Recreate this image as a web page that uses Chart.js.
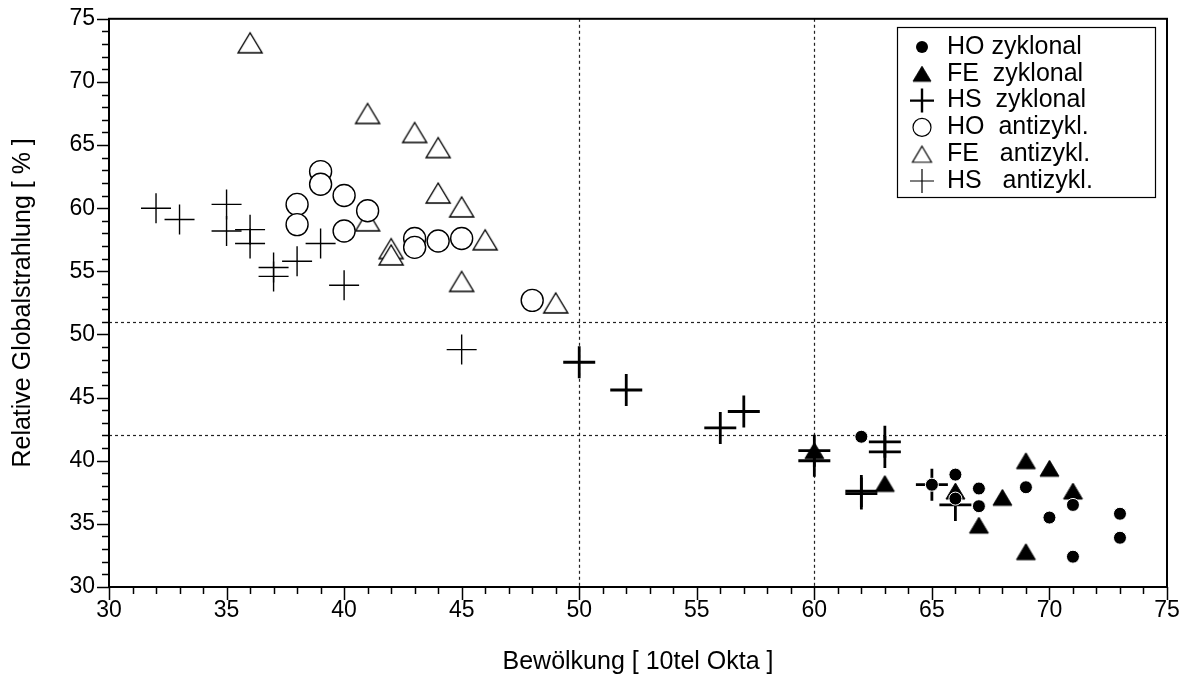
<!DOCTYPE html>
<html>
<head>
<meta charset="utf-8">
<script src="https://cdn.jsdelivr.net/npm/chart.js@4.4.1/dist/chart.umd.min.js"></script>
<style>
  html, body { margin: 0; padding: 0; background: #fff; }
  #wrap { width: 1187px; height: 689px; position: relative; }
</style>
</head>
<body>
<div id="wrap"><canvas id="chart"></canvas></div>
<script>
// ─── Data ───
const hoZykX = [62, 65, 66, 66, 67, 67, 69, 70, 71, 71, 73, 73];
const hoZykY = [41.9, 38.1, 38.9, 37.0, 37.8, 36.4, 37.9, 35.5, 36.5, 32.4, 35.8, 33.9];

const feZykX = [60, 63, 66, 67, 68, 69, 69, 70, 71];
const feZykY = [40.8, 38.2, 37.6, 34.9, 37.1, 40.0, 32.8, 39.4, 37.6];

const hsZykX = [50, 52, 56, 57, 60, 60, 62, 62, 63, 63, 65, 66];
const hsZykY = [47.8, 45.6, 42.6, 43.9, 40.8, 40.0, 37.6, 37.4, 41.5, 40.7, 38.1, 36.5];

const hoAntiX = [38, 38, 39, 39, 40, 40, 41, 43, 43, 44, 45, 48];
const hoAntiY = [60.3, 58.7, 62.9, 61.9, 61.0, 58.2, 59.8, 57.6, 56.9, 57.4, 57.6, 52.7];

const feAntiX = [36, 41, 41, 42, 42, 43, 44, 44, 45, 45, 46, 49];
const feAntiY = [73.1, 67.5, 59.0, 56.8, 56.3, 66.0, 64.8, 61.2, 60.1, 54.2, 57.5, 52.5];

const hsAntiX = [32, 33, 35, 35, 36, 36, 37, 37, 38, 39, 40, 45];
const hsAntiY = [60.0, 59.1, 60.3, 58.2, 58.3, 57.2, 55.3, 54.6, 55.8, 57.2, 53.9, 48.8];

const xTickValues = [30, 35, 40, 45, 50, 55, 60, 65, 70, 75];
const yTickValues = [30, 35, 40, 45, 50, 55, 60, 65, 70, 75];
const refLinesX = [50, 60];
const refLinesY = [51, 42];

const legendLabels = ['HO zyklonal', 'FE  zyklonal', 'HS  zyklonal', 'HO  antizykl.', 'FE   antizykl.', 'HS   antizykl.'];

const FONT = '"Liberation Sans", Arial, sans-serif';

const pts = (xs, ys) => xs.map((x, i) => ({ x: x, y: ys[i] }));

// triangle markers centred on their bounding box
function triangle(w, h, filled, lw) {
  const c = document.createElement('canvas');
  const pad = Math.ceil(lw) + 1;
  c.width = w + pad * 2; c.height = h + pad * 2;
  const g = c.getContext('2d');
  g.beginPath();
  g.moveTo(pad + w / 2, pad);
  g.lineTo(pad + w, pad + h);
  g.lineTo(pad, pad + h);
  g.closePath();
  g.fillStyle = filled ? '#000' : '#fff';
  g.fill();
  g.lineWidth = lw; g.strokeStyle = '#000';
  g.stroke();
  return c;
}
const triFilled = triangle(19, 16, true, 1);
const triOpen = triangle(24, 20, false, 1.4);
const triFilledSmall = triangle(18, 15, true, 1);
const triOpenSmall = triangle(19, 16, false, 1.2);

// ─── Decorations: frame, ticks, dotted lines, legend ───
const decor = {
  id: 'decor',
  beforeDatasetsDraw(chart) {
    const { ctx, chartArea: a, scales: { x, y } } = chart;
    ctx.save();
    ctx.strokeStyle = '#222'; ctx.lineWidth = 1.2; ctx.setLineDash([3, 3]);
    refLinesX.forEach(v => {
      const px = Math.round(x.getPixelForValue(v)) + 0.5;
      ctx.beginPath(); ctx.moveTo(px, a.top); ctx.lineTo(px, a.bottom); ctx.stroke();
    });
    refLinesY.forEach(v => {
      const py = Math.round(y.getPixelForValue(v)) + 0.5;
      ctx.beginPath(); ctx.moveTo(a.left, py); ctx.lineTo(a.right, py); ctx.stroke();
    });
    ctx.restore();
  },
  afterDraw(chart) {
    const { ctx, chartArea: a, scales: { x, y } } = chart;
    ctx.save();
    ctx.strokeStyle = '#000'; ctx.lineWidth = 2;
    ctx.strokeRect(a.left, a.top, a.right - a.left, a.bottom - a.top);
    ctx.lineWidth = 1.5;
    for (let v = 30; v <= 75; v++) {
      const px = Math.round(x.getPixelForValue(v)) + 0.5;
      const len = v % 5 === 0 ? 13 : 7;
      ctx.beginPath(); ctx.moveTo(px, a.bottom); ctx.lineTo(px, a.bottom + len); ctx.stroke();
      const py = Math.round(y.getPixelForValue(v)) + 0.5;
      const ylen = v % 5 === 0 ? 12 : 7;
      ctx.beginPath(); ctx.moveTo(a.left, py); ctx.lineTo(a.left - ylen, py); ctx.stroke();
    }

    // legend
    const bx = 897, by = 27, bw = 258, bh = 170;
    ctx.fillStyle = '#fff';
    ctx.fillRect(bx, by, bw, bh);
    ctx.lineWidth = 1.2; ctx.strokeStyle = '#000';
    ctx.strokeRect(bx + 0.5, by + 0.5, bw, bh);
    ctx.font = '25px ' + FONT;
    ctx.textBaseline = 'middle';
    ctx.fillStyle = '#000';
    const mx = 922;
    legendLabels.forEach((t, i) => {
      const ry = 47 + i * 26.8;
      ctx.fillText(t, 947, ry);
      ctx.beginPath();
      if (i === 0) {
        ctx.arc(mx, ry, 6, 0, Math.PI * 2); ctx.fill();
      } else if (i === 1) {
        ctx.drawImage(triFilledSmall, mx - triFilledSmall.width / 2, ry - triFilledSmall.height / 2);
      } else if (i === 2) {
        ctx.lineWidth = 2.4;
        ctx.moveTo(mx - 12, ry); ctx.lineTo(mx + 12, ry);
        ctx.moveTo(mx, ry - 12); ctx.lineTo(mx, ry + 12); ctx.stroke();
      } else if (i === 3) {
        ctx.lineWidth = 1.2;
        ctx.arc(mx, ry, 9, 0, Math.PI * 2); ctx.stroke();
      } else if (i === 4) {
        ctx.drawImage(triOpenSmall, mx - triOpenSmall.width / 2, ry - triOpenSmall.height / 2);
      } else {
        ctx.lineWidth = 1.2;
        ctx.moveTo(mx - 12, ry); ctx.lineTo(mx + 12, ry);
        ctx.moveTo(mx, ry - 12); ctx.lineTo(mx, ry + 12); ctx.stroke();
      }
    });
    ctx.restore();
  }
};

new Chart(document.getElementById('chart'), {
  type: 'scatter',
  data: {
    datasets: [
      { label: 'HO zyklonal', data: pts(hoZykX, hoZykY), order: 0,
        pointStyle: 'circle', pointRadius: 6.5, backgroundColor: '#000', borderColor: '#fff', borderWidth: 1 },
      { label: 'FE zyklonal', data: pts(feZykX, feZykY), order: 2,
        pointStyle: triFilled, pointRadius: 10 },
      { label: 'HS zyklonal', data: pts(hsZykX, hsZykY), order: 4,
        pointStyle: 'cross', pointRadius: 16, borderColor: '#000', borderWidth: 2.8 },
      { label: 'HO antizykl.', data: pts(hoAntiX, hoAntiY), order: 1,
        pointStyle: 'circle', pointRadius: 11, backgroundColor: '#fff', borderColor: '#000', borderWidth: 1.4 },
      { label: 'FE antizykl.', data: pts(feAntiX, feAntiY), order: 3,
        pointStyle: triOpen, pointRadius: 12 },
      { label: 'HS antizykl.', data: pts(hsAntiX, hsAntiY), order: 5,
        pointStyle: 'cross', pointRadius: 15, borderColor: '#000', borderWidth: 1.4 }
    ]
  },
  options: {
    responsive: true, maintainAspectRatio: false, animation: false,
    layout: { padding: { top: 18, right: 20, left: 0, bottom: 0 } },
    plugins: { legend: { display: false }, tooltip: { enabled: false } },
    scales: {
      x: {
        type: 'linear', min: 30, max: 75,
        afterBuildTicks: s => { s.ticks = xTickValues.map(v => ({ value: v })); },
        afterFit: s => { s.height = 102; s.paddingLeft = 0; s.paddingRight = 0; },
        grid: { display: false, drawTicks: false },
        border: { display: false },
        ticks: { padding: 10, color: '#000', font: { family: FONT, size: 23 } },
        title: { display: true, text: 'Bewölkung [ 10tel Okta ]', color: '#000',
          font: { family: FONT, size: 25 }, padding: { top: 0, bottom: 12 } }
      },
      y: {
        type: 'linear', min: 30, max: 75,
        afterBuildTicks: s => { s.ticks = yTickValues.map(v => ({ value: v })); },
        afterFit: s => { s.width = 109; s.paddingTop = 0; s.paddingBottom = 0; },
        grid: { display: false, drawTicks: false },
        border: { display: false },
        ticks: { padding: 14, color: '#000', font: { family: FONT, size: 23 } },
        title: { display: true, text: 'Relative Globalstrahlung [ % ]', color: '#000',
          font: { family: FONT, size: 25 }, padding: { top: 8, bottom: 0 } }
      }
    }
  },
  plugins: [decor]
});
</script>
</body>
</html>
